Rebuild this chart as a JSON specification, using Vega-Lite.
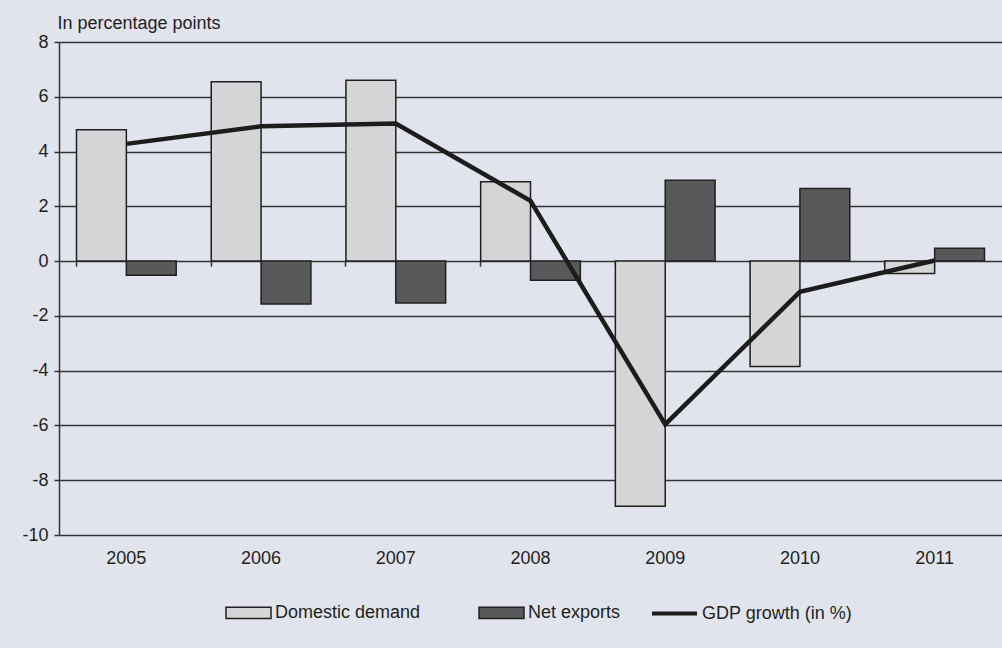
{
  "$schema": "https://vega.github.io/schema/vega-lite/v6.json",
  "autosize": "none",
  "width": 943,
  "height": 493,
  "padding": {"left": 59, "top": 42, "right": 0, "bottom": 113},
  "background": "#e1e4ec",
  "config": {
    "view": {"stroke": null},
    "font": "Liberation Sans",
    "axis": {"labelFont": "Liberation Sans", "titleFont": "Liberation Sans", "labelColor": "#231f20", "titleColor": "#231f20"},
    "legend": {"labelFont": "Liberation Sans"}
  },
  "datasets": {
    "bars": [
      {"year": "2005", "series": "Domestic demand", "value": 4.8},
      {"year": "2006", "series": "Domestic demand", "value": 6.55},
      {"year": "2007", "series": "Domestic demand", "value": 6.6},
      {"year": "2008", "series": "Domestic demand", "value": 2.9},
      {"year": "2009", "series": "Domestic demand", "value": -8.95},
      {"year": "2010", "series": "Domestic demand", "value": -3.85},
      {"year": "2011", "series": "Domestic demand", "value": -0.45},
      {"year": "2005", "series": "Net exports", "value": -0.52},
      {"year": "2006", "series": "Net exports", "value": -1.57},
      {"year": "2007", "series": "Net exports", "value": -1.53},
      {"year": "2008", "series": "Net exports", "value": -0.7},
      {"year": "2009", "series": "Net exports", "value": 2.95},
      {"year": "2010", "series": "Net exports", "value": 2.65},
      {"year": "2011", "series": "Net exports", "value": 0.47}
    ],
    "gdp": [
      {"year": "2005", "value": 4.28},
      {"year": "2006", "value": 4.92},
      {"year": "2007", "value": 5.02},
      {"year": "2008", "value": 2.2},
      {"year": "2009", "value": -5.96},
      {"year": "2010", "value": -1.12},
      {"year": "2011", "value": 0.02}
    ]
  },
  "resolve": {"axis": {"x": "independent"}},
  "layer": [
    {
      "data": {"name": "bars"},
      "mark": {"type": "bar", "stroke": "#231f20", "strokeWidth": 1.5},
      "encoding": {
        "x": {
          "field": "year", "type": "nominal",
          "scale": {"paddingInner": 0.26, "paddingOuter": 0.13},
          "axis": {"orient": "bottom", "title": null, "labelAngle": 0, "ticks": false, "domain": false, "labelFontSize": 18, "labelPadding": 14, "grid": false}
        },
        "xOffset": {"field": "series", "type": "nominal", "sort": ["Domestic demand", "Net exports"], "scale": {"paddingInner": 0, "paddingOuter": 0}},
        "y": {
          "field": "value", "type": "quantitative",
          "scale": {"domain": [-10, 8], "nice": false, "zero": false},
          "axis": {
            "values": [-10, -8, -6, -4, -2, 0, 2, 4, 6, 8],
            "labelExpr": "'' + datum.value",
            "grid": true, "gridColor": "#333333", "gridWidth": 1.5,
            "domainColor": "#333333", "domainWidth": 1.5,
            "tickColor": "#333333", "tickSize": 5, "tickWidth": 1.5,
            "labelFontSize": 18, "labelPadding": 6,
            "title": "In percentage points", "titleAngle": 0, "titleAlign": "left", "titleBaseline": "alphabetic",
            "titleX": -2, "titleY": -14, "titleFontSize": 18, "titleFontWeight": "normal"
          }
        },
        "fill": {
          "field": "series", "type": "nominal",
          "scale": {"domain": ["Domestic demand", "Net exports"], "range": ["#d4d5d7", "#58595b"]},
          "legend": {
            "title": null, "orient": "none", "direction": "horizontal", "legendX": 166, "legendY": 547,
            "labelFontSize": 18, "labelColor": "#231f20", "symbolSize": 2025, "columnPadding": 55, "labelOffset": 3,
            "symbolType": "M-1,-0.25H1V0.25H-1Z", "symbolStrokeColor": "#231f20", "symbolStrokeWidth": 1.5, "symbolOpacity": 1
          }
        }
      }
    },
    {
      "data": {"name": "gdp"},
      "mark": {"type": "line", "strokeWidth": 4.5, "strokeJoin": "miter"},
      "encoding": {
        "x": {
          "field": "year", "type": "nominal",
          "axis": {"orient": "bottom", "offset": -273.9, "labels": false, "domain": false, "ticks": true, "tickSize": 5, "tickWidth": 1.5, "tickColor": "#333333", "bandPosition": 0, "title": null, "grid": false}
        },
        "y": {"field": "value", "type": "quantitative"},
        "stroke": {
          "datum": "GDP growth (in %)",
          "scale": {"domain": ["GDP growth (in %)"], "range": ["#1c1c1c"]},
          "legend": {
            "title": null, "orient": "none", "direction": "horizontal", "legendX": 591, "legendY": 547,
            "labelFontSize": 18, "labelColor": "#231f20", "symbolSize": 2025, "labelOffset": 3,
            "symbolType": "M-1,0H1", "symbolStrokeWidth": 4, "symbolStrokeColor": "#1c1c1c", "symbolOpacity": 1
          }
        }
      }
    }
  ]
}
